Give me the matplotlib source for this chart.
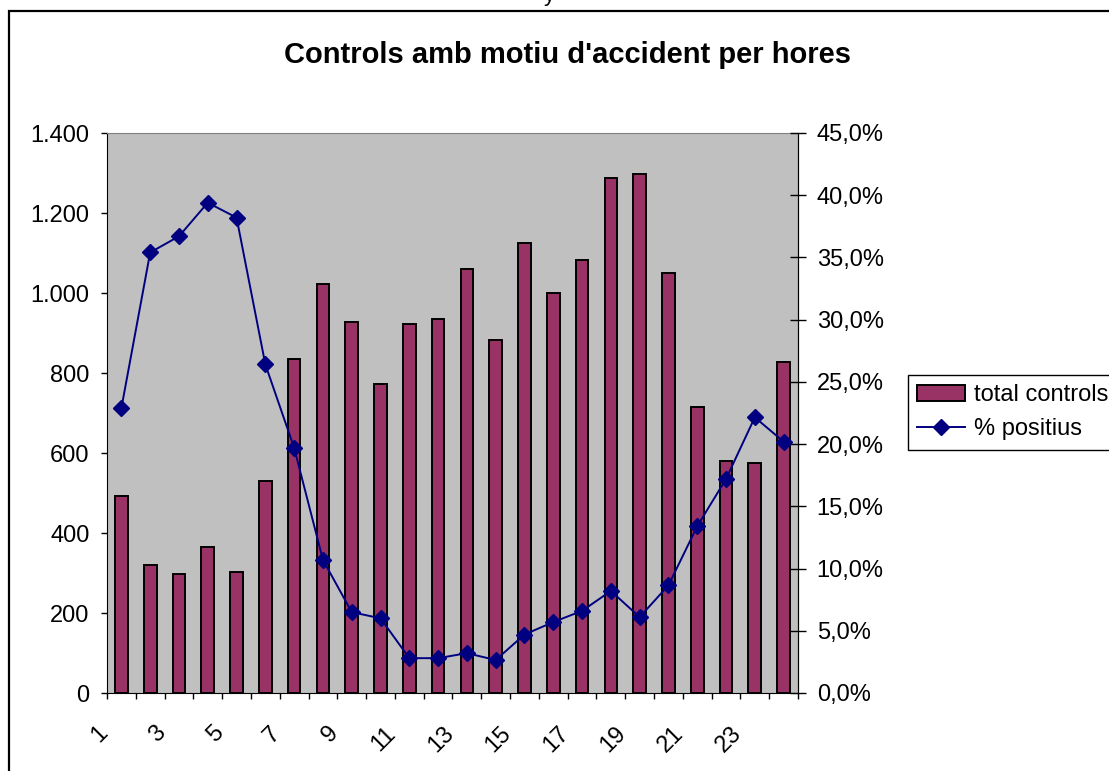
import matplotlib
matplotlib.use('Agg')
import matplotlib.pyplot as plt
import matplotlib.transforms as mtransforms
from matplotlib.patches import Rectangle
from matplotlib.ticker import FuncFormatter, MultipleLocator
import numpy as np

plt.rcParams['font.family'] = ['Liberation Sans', 'DejaVu Sans']

# dades
hores = list(range(1, 25))
total_controls = [493, 320, 297, 366, 302, 530, 836, 1023, 927, 772, 922, 936,
                  1060, 882, 1124, 1000, 1083, 1288, 1298, 1050, 714, 580, 576, 827]
pct_positius = [22.9, 35.4, 36.7, 39.4, 38.2, 26.4, 19.7, 10.7, 6.5, 6.0, 2.8, 2.8,
                3.2, 2.65, 4.7, 5.7, 6.6, 8.2, 6.1, 8.65, 13.4, 17.2, 22.15, 20.2]
etiquetes_x = [str(h) for h in range(1, 24, 2)]

W, H = 1109, 771
fig = plt.figure(figsize=(W/100, H/100), dpi=100)

# marc exterior
fig.patches.append(Rectangle((8.5/W, -0.05), 1.2, 1 - 11.5/H + 0.05, transform=fig.transFigure,
                             fill=False, edgecolor='black', lw=1.6, zorder=0))

ax = fig.add_axes([107/W, 1 - 693/H, (798-107)/W, (693-133)/H])
ax.set_facecolor('#C0C0C0')
ax.bar(hores, total_controls, width=0.44, color='#993366', edgecolor='black', lw=1.4,
       label='total controls')
ax.set_xlim(0.5, 24.5)
ax.set_ylim(0, 1400)
ax.yaxis.set_major_locator(MultipleLocator(200))
ax.yaxis.set_major_formatter(FuncFormatter(lambda v, p: '{:,.0f}'.format(v).replace(',', '.')))
ax.tick_params(axis='y', direction='out', length=4.5, width=1, pad=8, labelsize=17)

# ticks entre categories, etiquetes a 1,3,5...
ax.set_xticks(np.arange(0.5, 25, 1))
ax.set_xticklabels([])
ax.set_xticks(range(1, 24, 2), minor=True)
ax.set_xticklabels(etiquetes_x, minor=True, rotation=45, ha='right', va='top')
ax.tick_params(axis='x', which='major', direction='out', length=4.5, width=1)
ax.tick_params(axis='x', which='minor', length=0, pad=21, labelsize=17)
off = mtransforms.ScaledTranslation(-9/100, 0, fig.dpi_scale_trans)
for lab in ax.get_xticklabels(minor=True):
    lab.set_transform(lab.get_transform() + off)

ax.spines['top'].set_color('#808080')
ax.spines['right'].set_color('black')
for s in ['left', 'bottom']:
    ax.spines[s].set_color('black')

ax2 = ax.twinx()
ax2.plot(hores, pct_positius, color='#000080', lw=1.4, marker='D', markersize=8,
         markerfacecolor='#000080', markeredgecolor='#000080', label='% positius')
ax2.set_ylim(0, 45)
ax2.yaxis.set_major_locator(MultipleLocator(5))
ax2.yaxis.set_major_formatter(FuncFormatter(lambda v, p: '{:.1f}%'.format(v).replace('.', ',')))
ax2.tick_params(axis='y', direction='inout', length=11, width=1, pad=8, labelsize=17)
ax2.spines['top'].set_visible(False)
ax2.spines['left'].set_visible(False)
ax2.spines['bottom'].set_visible(False)
ax2.spines['right'].set_color('black')

fig.text(567/W, 1 - 55/H, "Controls amb motiu d'accident per hores", ha='center', va='center',
         fontsize=21, fontweight='bold')
fig.text(549/W, 1 - 0.5/H, 'y', ha='center', va='baseline', fontsize=16)

h1, l1 = ax.get_legend_handles_labels()
h2, l2 = ax2.get_legend_handles_labels()
leg = fig.legend(h1 + h2, l1 + l2, loc='upper left', bbox_to_anchor=(908/W, 1 - 375/H),
                 fancybox=False, edgecolor='black', framealpha=1, fontsize=17,
                 handlelength=2.0, handletextpad=0.4, labelspacing=0.5, borderpad=0.4,
                 borderaxespad=0)
leg.get_frame().set_linewidth(1)

fig.savefig('out.png', dpi=100)
